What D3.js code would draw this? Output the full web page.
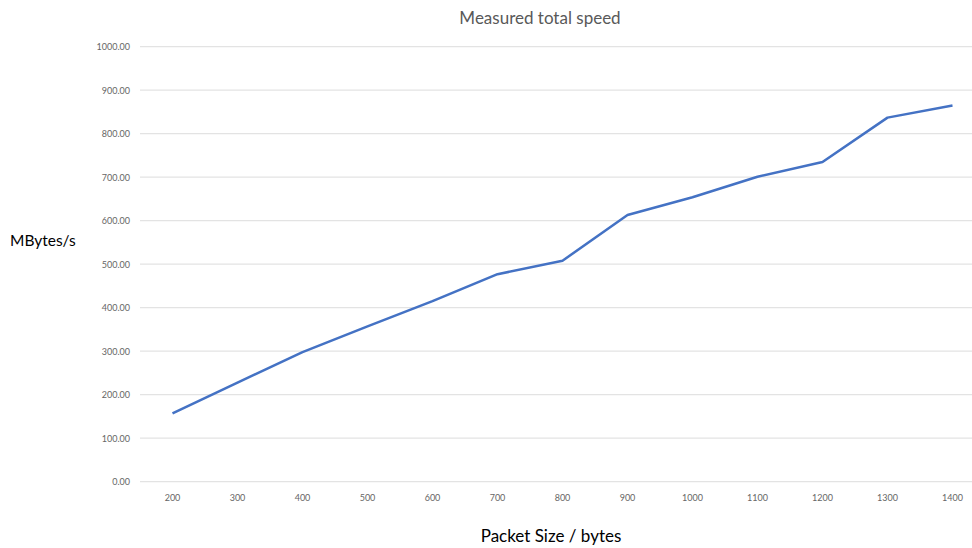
<!DOCTYPE html>
<html><head><meta charset="utf-8">
<script src="https://cdn.jsdelivr.net/npm/d3@7"></script>
<style>body{margin:0;background:#fff}svg{display:block}</style>
</head><body>
<svg id="c" width="972" height="548"></svg>
<script>
const categories = [200,300,400,500,600,700,800,900,1000,1100,1200,1300,1400];
const speeds = [157,228,298,357,415,477,508,613,654,701,735,837,865];
const yTicks = [0,100,200,300,400,500,600,700,800,900,1000];

const svg = d3.select("#c");
const font = "Lato, 'Open Sans', sans-serif";
const x = d3.scaleBand().domain(categories).range([140, 985]);
const y = d3.scaleLinear().domain([0, 1000]).range([481.7, 46.7]);

// gridlines
svg.append("g").selectAll("line").data(yTicks).join("line")
  .attr("x1", 140).attr("x2", 972)
  .attr("y1", d => y(d)).attr("y2", d => y(d))
  .attr("stroke", "#e3e3e3").attr("stroke-width", 1.3);

// y axis labels
const ya = svg.append("g").attr("transform", "translate(140,0)")
  .call(d3.axisLeft(y).tickValues(yTicks).tickFormat(d3.format(".2f")).tickSize(0).tickPadding(10));
ya.select(".domain").remove();
ya.selectAll("text").attr("font-family", font).attr("font-size", 9).attr("fill", "#666");

// x axis labels
const xa = svg.append("g").attr("transform", "translate(0,481.7)")
  .call(d3.axisBottom(x).tickSize(0).tickPadding(13));
xa.select(".domain").remove();
xa.selectAll("text").attr("font-family", font).attr("font-size", 9).attr("fill", "#666");

// line
svg.append("path")
  .datum(categories.map((c, i) => [c, speeds[i]]))
  .attr("fill", "none").attr("stroke", "#4472C4").attr("stroke-width", 2.5)
  .attr("stroke-linejoin", "round")
  .attr("d", d3.line().x(d => x(d[0]) + x.bandwidth() / 2).y(d => y(d[1])));

// title
svg.append("text").attr("x", 540).attr("y", 24).attr("text-anchor", "middle")
  .attr("font-family", font).attr("font-size", 17).attr("fill", "#595959")
  .text("Measured total speed");

// axis titles
svg.append("text").attr("x", 10).attr("y", 246)
  .attr("font-family", font).attr("font-size", 15.5).attr("fill", "#000")
  .text("MBytes/s");
svg.append("text").attr("x", 551).attr("y", 542).attr("text-anchor", "middle")
  .attr("font-family", font).attr("font-size", 17).attr("fill", "#000")
  .text("Packet Size / bytes");
</script>
</body></html>
